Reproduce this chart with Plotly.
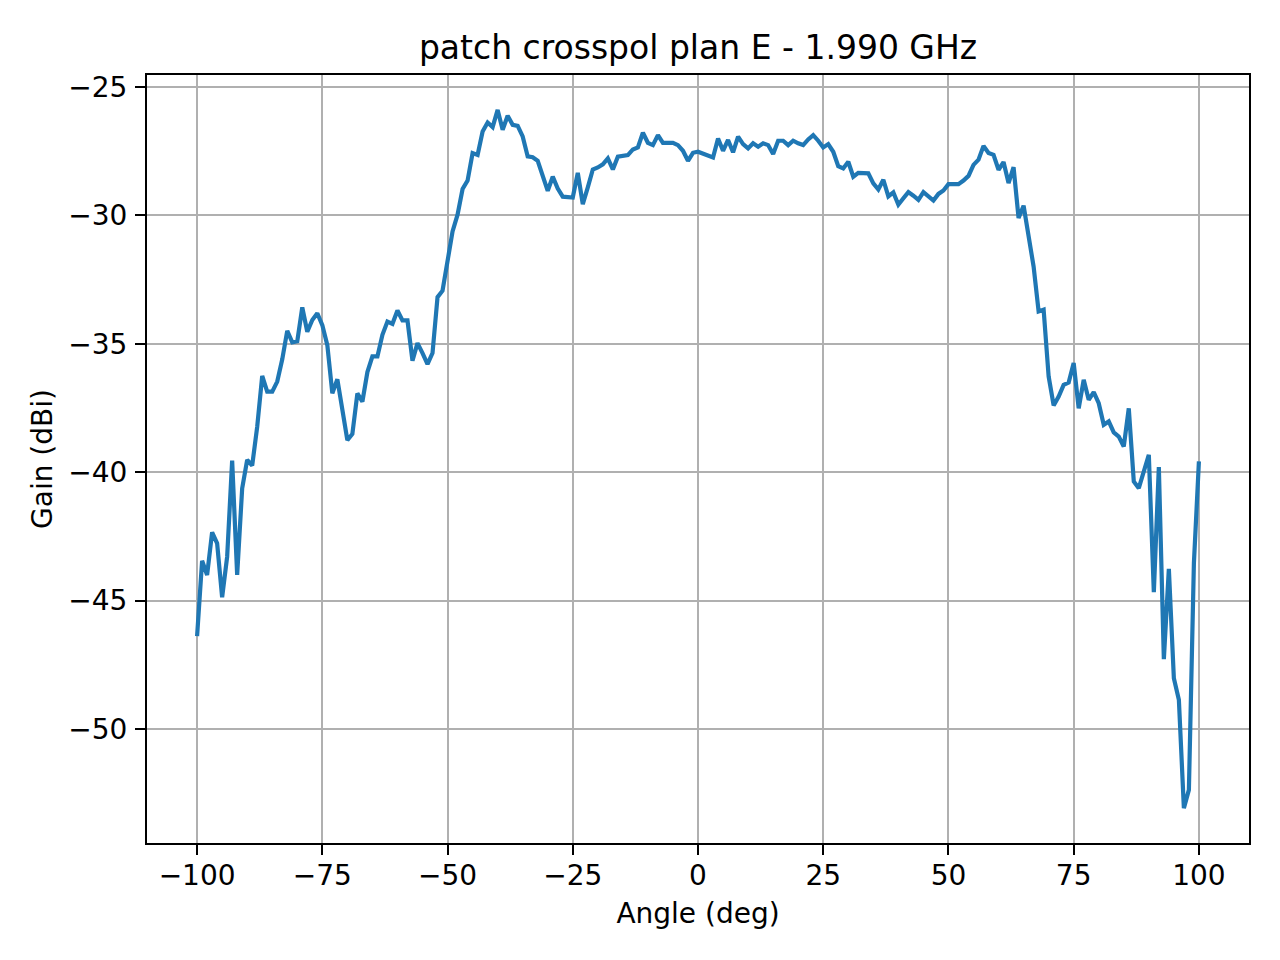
import plotly.graph_objects as go

angles = list(range(-100, 101))
gain = [
    -46.38, -43.45, -44.00, -42.34, -42.77, -44.87, -43.29, -39.55, -44.00, -40.63,
    -39.52, -39.74, -38.23, -36.25, -36.86, -36.86, -36.47, -35.60, -34.49, -34.94,
    -34.90, -33.58, -34.53, -34.07, -33.81, -34.27, -35.05, -36.93, -36.38, -37.58,
    -38.75, -38.51, -36.93, -37.25, -36.10, -35.49, -35.49, -34.65, -34.13, -34.22,
    -33.70, -34.09, -34.09, -35.66, -34.97, -35.36, -35.79, -35.36, -33.18, -32.93,
    -31.79, -30.62, -29.97, -28.97, -28.64, -27.57, -27.64, -26.73, -26.38, -26.56,
    -25.89, -26.66, -26.12, -26.47, -26.51, -26.92, -27.70, -27.73, -27.87, -28.43,
    -29.04, -28.49, -28.95, -29.27, -29.29, -29.30, -28.34, -29.56, -28.91, -28.21,
    -28.13, -28.01, -27.78, -28.21, -27.71, -27.68, -27.65, -27.43, -27.35, -26.78,
    -27.17, -27.26, -26.87, -27.17, -27.17, -27.17, -27.26, -27.48, -27.87, -27.56,
    -27.52,
    -27.58, -27.65, -27.74, -27.00, -27.48, -27.06, -27.54, -26.93, -27.22, -27.39,
    -27.19, -27.32, -27.19, -27.26, -27.61, -27.09, -27.09, -27.26, -27.09, -27.19,
    -27.26, -27.04, -26.87, -27.09, -27.35, -27.22, -27.52, -28.08, -28.17, -27.91,
    -28.49, -28.34, -28.36, -28.36, -28.75, -28.99, -28.61, -29.26, -29.10, -29.58,
    -29.33, -29.09, -29.23, -29.39, -29.09, -29.23, -29.42, -29.16, -29.03, -28.78,
    -28.77, -28.78, -28.64, -28.46, -28.03, -27.83, -27.29, -27.57, -27.64, -28.22,
    -27.92, -28.74, -28.12, -30.10, -29.62, -30.79, -31.99, -33.74, -33.67, -36.27,
    -37.40, -37.05, -36.60, -36.51, -35.75, -37.51, -36.40, -37.18, -36.88, -37.31,
    -38.15, -38.02, -38.45, -38.61, -39.00, -37.51, -40.36, -40.62, -39.91, -39.32,
    -44.67, -39.80, -47.28, -43.76, -48.02, -48.86, -53.08, -52.37, -43.54, -39.58,
]

title_text = "patch crosspol plan E - 1.990 GHz"
x_label = "Angle (deg)"
y_label = "Gain (dBi)"
x_ticks = [-100, -75, -50, -25, 0, 25, 50, 75, 100]
y_ticks = [-50, -45, -40, -35, -30, -25]

FONT = "DejaVu Sans"

fig = go.Figure()
fig.add_trace(go.Scatter(
    x=angles, y=gain, mode="lines",
    line=dict(color="#1f77b4", width=4.2),
    showlegend=False,
))

axis_common = dict(
    showline=True, linecolor="black", linewidth=2.2, mirror=True,
    showgrid=True, gridcolor="#b0b0b0", gridwidth=2.2,
    zeroline=False,
    ticks="outside", ticklen=10, tickwidth=2.2, tickcolor="black",
    tickfont=dict(family=FONT, size=28, color="black"),
)

fig.update_xaxes(
    range=[-110, 110], tickvals=x_ticks, ticklabelstandoff=-4,
    title=dict(text=x_label, font=dict(family=FONT, size=28, color="black"), standoff=13),
    **axis_common,
)
fig.update_yaxes(
    range=[-54.44, -24.53], tickvals=y_ticks, ticklabelstandoff=2,
    title=dict(text=y_label, font=dict(family=FONT, size=28, color="black"), standoff=7),
    **axis_common,
)

fig.update_layout(
    width=1280, height=960,
    margin=dict(l=147, r=31, t=75, b=117),
    paper_bgcolor="white", plot_bgcolor="white",
    title=dict(text=title_text, x=0.5, xref="paper", xanchor="center",
               y=1 - 47 / 960, yanchor="middle",
               font=dict(family=FONT, size=33, color="black")),
    font=dict(family=FONT),
)

fig.write_html(
    "out.html",
    config={"displayModeBar": False},
    post_script="document.body.style.margin='0px';document.body.style.overflow='hidden';",
)
